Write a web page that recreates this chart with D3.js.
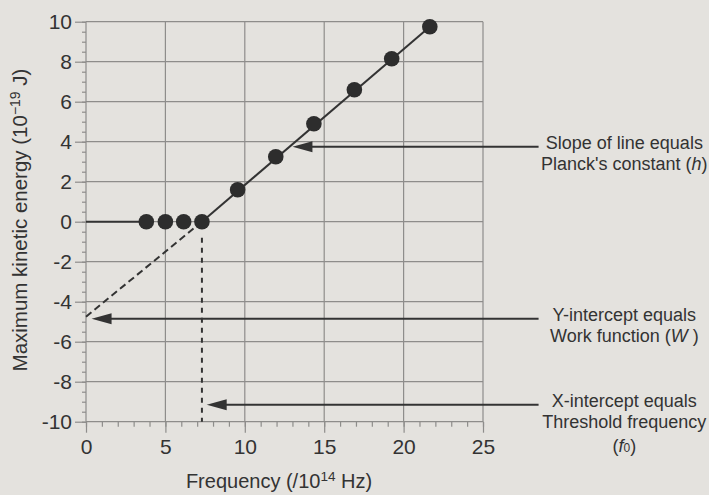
<!DOCTYPE html>
<html lang="en">
<head>
  <meta charset="UTF-8">
  <title>Photoelectric effect</title>
  <style>
    :root {
      --paper: #e4e2de;
      --ink: #333;
      --grid: #8e8d8b;
    }
    html, body {
      margin: 0;
      padding: 0;
      width: 100%;
      height: 100%;
      background: var(--paper);
      overflow: hidden;
    }
    svg {
      display: block;
      font-family: 'Liberation Sans', Arial, sans-serif;
    }
  </style>
</head>
<body>
  <svg id="chart" width="709" height="495"></svg>

  <script src="https://cdnjs.cloudflare.com/ajax/libs/d3/7.8.5/d3.min.js"></script>
  <script>
    // values (frequency in 10^14 Hz, energy in 10^-19 J)
    const xTicks = [0, 5, 10, 15, 20, 25];
    const yTicks = [-10, -8, -6, -4, -2, 0, 2, 4, 6, 8, 10];

    const belowFreq = [3.8, 5.0, 6.15, 7.3];
    const belowEnergy = [0, 0, 0, 0];

    const aboveFreq = [9.55, 11.95, 14.35, 16.9, 19.25, 21.65];
    const aboveEnergy = [1.6, 3.25, 4.9, 6.6, 8.15, 9.75];

    const workFunction = -4.75;  // y-intercept
    const threshold = 7.3;       // x-intercept

    // annotation arrows: where the head points and the text beside it
    const notes = [
      { tipX: 13.0, y: 3.75, lines: [["Slope of line equals"], ["Planck's constant (", ["h", "i"], ")"]] },
      { tipX: 0.35, y: -4.85, lines: [["Y-intercept equals"], ["Work function (", ["W", "i"], " )"]] },
      { tipX: 7.6, y: -9.15, lines: [["X-intercept equals"], ["Threshold frequency"], ["(", ["f", "i"], ["0", "sub"], ")"]] }
    ];

    const css = getComputedStyle(document.documentElement);
    const ink = css.getPropertyValue('--ink').trim();
    const gridCol = css.getPropertyValue('--grid').trim();

    const svg = d3.select("#chart");
    const padLeft = 86, padTop = 21.7, plotW = 397, plotH = 400;

    const x = d3.scaleLinear().domain([0, 25]).range([padLeft, padLeft + plotW]);
    const y = d3.scaleLinear().domain([-10, 10]).range([padTop + plotH, padTop]);

    // grid
    const grid = svg.append("g").attr("stroke", gridCol).attr("stroke-width", 1.2);
    grid.selectAll("line.v").data(xTicks).enter().append("line")
      .attr("x1", d => x(d)).attr("x2", d => x(d))
      .attr("y1", y(10)).attr("y2", y(-10));
    grid.selectAll("line.h").data(yTicks).enter().append("line")
      .attr("y1", d => y(d)).attr("y2", d => y(d))
      .attr("x1", x(0)).attr("x2", x(25));

    // minor ticks
    svg.append("g").attr("transform", `translate(${x(0)},0)`)
      .call(d3.axisLeft(y).tickValues(d3.range(-10, 10.01, 0.5)).tickSize(4).tickFormat(""))
      .call(g => g.select(".domain").remove())
      .selectAll("line").attr("stroke", gridCol).attr("stroke-width", 1.2);
    svg.append("g").attr("transform", `translate(0,${y(-10)})`)
      .call(d3.axisBottom(x).tickValues(d3.range(0, 25.01, 1)).tickSize(5).tickFormat(""))
      .call(g => g.select(".domain").remove())
      .selectAll("line").attr("stroke", gridCol).attr("stroke-width", 1.2);

    // major axes (plain hyphen for negatives, like the print)
    const yAxis = svg.append("g").attr("transform", `translate(${x(0)},0)`)
      .call(d3.axisLeft(y).tickValues(yTicks).tickSize(11).tickPadding(3).tickFormat(d => String(d)));
    const xAxis = svg.append("g").attr("transform", `translate(0,${y(-10)})`)
      .call(d3.axisBottom(x).tickValues(xTicks).tickSize(11).tickPadding(6).tickFormat(d => String(d)));
    [yAxis, xAxis].forEach(a => {
      a.select(".domain").remove();
      a.selectAll("line").attr("stroke", gridCol).attr("stroke-width", 1.2);
      a.selectAll("text").attr("fill", ink).style("font-size", "21px")
        .style("font-family", "'Liberation Sans', Arial, sans-serif");
    });

    // axis titles
    const xt = svg.append("text").attr("x", 279).attr("y", 488)
      .attr("text-anchor", "middle").attr("fill", ink).style("font-size", "20px");
    xt.append("tspan").text("Frequency (/10");
    xt.append("tspan").attr("dy", -7).style("font-size", "13.5px").text("14");
    xt.append("tspan").attr("dy", 7).text(" Hz)");

    const yt = svg.append("text").attr("transform", "translate(27,220) rotate(-90)")
      .attr("text-anchor", "middle").attr("fill", ink).style("font-size", "20.5px");
    yt.append("tspan").text("Maximum kinetic energy (10");
    yt.append("tspan").attr("dy", -7.5).style("font-size", "14px").text("\u221219");
    yt.append("tspan").attr("dy", 7.5).text(" J)");

    // lines
    const line = d3.line().x(d => x(d[0])).y(d => y(d[1]));
    svg.append("path")
      .attr("d", line([[0, 0], [belowFreq[0], belowEnergy[0]]]))
      .attr("stroke", ink).attr("stroke-width", 2).attr("fill", "none");
    svg.append("path")
      .attr("d", line([[0, workFunction], [threshold, 0]]))
      .attr("stroke", ink).attr("stroke-width", 2).attr("fill", "none")
      .attr("stroke-dasharray", "7,4");
    svg.append("path")
      .attr("d", line([[threshold, 0], [aboveFreq[aboveFreq.length - 1], aboveEnergy[aboveEnergy.length - 1]]]))
      .attr("stroke", ink).attr("stroke-width", 2).attr("fill", "none");
    svg.append("path")
      .attr("d", line([[threshold, -0.8], [threshold, -10]]))
      .attr("stroke", ink).attr("stroke-width", 2).attr("fill", "none")
      .attr("stroke-dasharray", "5,5");

    // dots
    const pts = belowFreq.map((f, i) => [f, belowEnergy[i]])
      .concat(aboveFreq.map((f, i) => [f, aboveEnergy[i]]));
    svg.append("g").selectAll("circle").data(pts).enter().append("circle")
      .attr("cx", d => x(d[0])).attr("cy", d => y(d[1]))
      .attr("r", 7.8).attr("fill", "#2d2d2d");

    // annotations
    const lineEnd = 28.5, textX = 33.9;
    const ann = svg.append("g");
    notes.forEach(n => {
      const yy = y(n.y), tip = x(n.tipX);
      ann.append("line")
        .attr("x1", tip + 15).attr("x2", x(lineEnd))
        .attr("y1", yy).attr("y2", yy)
        .attr("stroke", ink).attr("stroke-width", 2);
      ann.append("path")
        .attr("d", `M${tip},${yy} L${tip + 20},${yy - 5.5} L${tip + 20},${yy + 5.5} Z`)
        .attr("fill", ink);
      const t = ann.append("text").attr("text-anchor", "middle").attr("fill", ink)
        .style("font-size", "18px");
      n.lines.forEach((ln, i) => {
        const row = t.append("tspan").attr("x", x(textX)).attr("y", yy + 2.5 + i * 20.5 + (i > 1 ? 4 : 0));
        ln.forEach(part => {
          if (typeof part === "string") row.append("tspan").text(part);
          else if (part[1] === "i") row.append("tspan").style("font-style", "italic").text(part[0]);
          else row.append("tspan").style("font-size", "12px").text(part[0]);
        });
      });
    });
  </script>
</body>
</html>
